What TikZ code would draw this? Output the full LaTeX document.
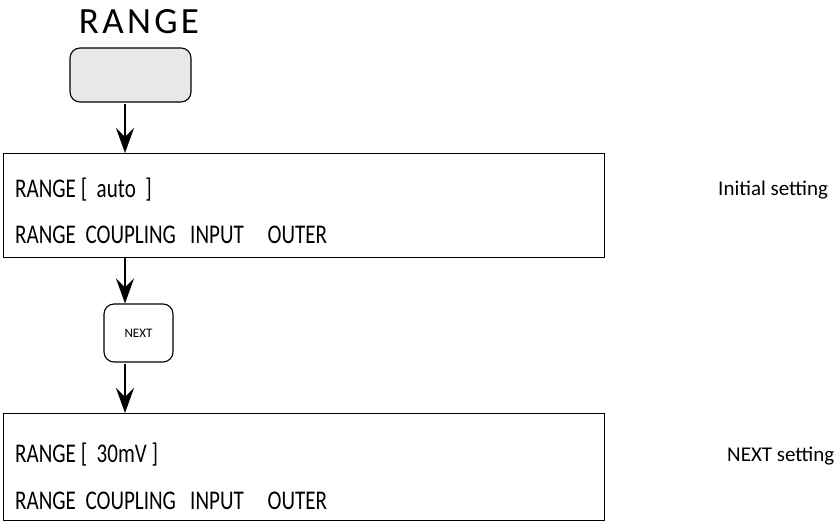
\documentclass[tikz,border=0pt]{standalone}
\usepackage{fontspec}
\setmainfont{Carlito}
\newfontfamily\lcdfont{Carlito}[FakeStretch=0.78]
\newfontfamily\titlefont{Carlito}[LetterSpace=9]
\usetikzlibrary{arrows.meta,positioning}
\tikzset{
  key/.style={draw,rounded corners=10pt,line width=1.1pt},
  panel/.style={draw,line width=0.9pt,minimum width=601pt,minimum height=104pt,anchor=north west,inner sep=0pt},
  flow/.style={line width=1.5pt,-{Stealth[length=25pt,width=18pt,inset=9pt]}},
  lcd/.style={anchor=base west,inner sep=0pt,font=\lcdfont\fontsize{27}{30}\selectfont},
  note/.style={anchor=base west,inner sep=0pt,font=\fontsize{21}{24}\selectfont}
}
\begin{document}
\begin{tikzpicture}[x=1pt,y=-1pt]
    \useasboundingbox (0,0) rectangle (837,527);
    \node[anchor=base,inner sep=0pt,font=\titlefont\fontsize{37}{40}\selectfont] (title) at (139,34) {RANGE};
    \node[key,fill=gray!18,minimum width=121pt,minimum height=54pt] (rangekey) at (130.5,75) {};
    \node[panel] (disp1) at (3,153) {};
    \node[lcd] (disp1val) at (15,197) {RANGE [\ \ auto\ \ ]};
    \node[lcd] (disp1menu) at (15,243) {RANGE\ \ COUPLING\ \ \ INPUT\ \ \ \ \ OUTER};
    \node[note] (initial) at (718,195) {Initial setting};
    \node[key,minimum width=69pt,minimum height=58pt,font=\fontsize{13}{15}\selectfont] (nextkey) at (138.5,333) {NEXT};
    \node[panel,minimum height=107pt] (disp2) at (3,413) {};
    \node[lcd] (disp2val) at (15,462) {RANGE [\ \ 30mV ]};
    \node[lcd] (disp2menu) at (15,509) {RANGE\ \ COUPLING\ \ \ INPUT\ \ \ \ \ OUTER};
    \node[note] (nextset) at (727,461) {NEXT setting};

    \coordinate (a1) at (125,104);
    \coordinate (a2) at (125,258);
    \coordinate (a3) at (125,364);
    \draw[flow] (a1) -- (a1 |- disp1.north);
    \draw[flow] (a2) -- (a2 |- nextkey.north);
    \draw[flow] (a3) -- (a3 |- disp2.north);
\end{tikzpicture}
\end{document}
